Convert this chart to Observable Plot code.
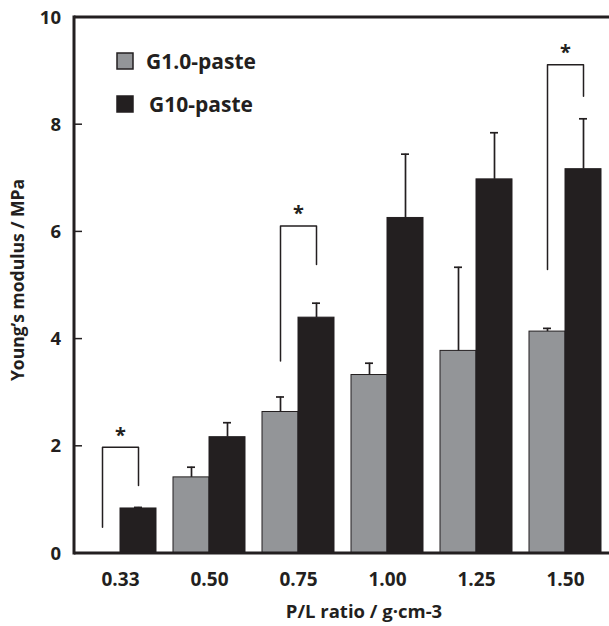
<!DOCTYPE html>
<html>
<head>
<meta charset="utf-8">
<script src="https://cdn.jsdelivr.net/npm/d3@7"></script>
<script src="https://cdn.jsdelivr.net/npm/@observablehq/plot@0.6"></script>
<style>
  html, body { margin: 0; padding: 0; background: #fff; }
  #chart { position: relative; width: 609px; height: 626px; }
</style>
</head>
<body>
<div id="chart"></div>
<script>
// ---- data ----
const ratios = ["0.33", "0.50", "0.75", "1.00", "1.25", "1.50"];
const seriesNames = ["G1.0-paste", "G10-paste"];
const g1Mean  = [0,    1.42, 2.64, 3.33, 3.78, 4.14];
const g1Err   = [0,    0.19, 0.28, 0.22, 1.56, 0.06];
const g10Mean = [0.84, 2.17, 4.40, 6.26, 6.98, 7.17];
const g10Err  = [0.02, 0.27, 0.27, 1.19, 0.87, 0.94];
const sigRatios      = ["0.33", "0.75", "1.50"];
const sigTop         = [1.98, 6.11, 9.12];
const sigLeftBottom  = [0.49, 3.59, 5.30];
const sigRightBottom = [1.27, 5.39, 8.53];
const yTicks = [0, 2, 4, 6, 8, 10];
const xTitle = "P/L ratio / g·cm-3";
const yTitle = "Young’s modulus / MPa";

// ---- tables built from the arrays ----
const bars = [];
ratios.forEach((r, i) => {
  bars.push({ratio: r, series: seriesNames[0], mean: g1Mean[i], err: g1Err[i]});
  bars.push({ratio: r, series: seriesNames[1], mean: g10Mean[i], err: g10Err[i]});
});
const shown = bars.filter(d => d.mean > 0);
const bracketPts = [];
sigRatios.forEach((r, i) => {
  bracketPts.push({ratio: r, series: seriesNames[0], y: sigLeftBottom[i]});
  bracketPts.push({ratio: r, series: seriesNames[0], y: sigTop[i]});
  bracketPts.push({ratio: r, series: seriesNames[1], y: sigTop[i]});
  bracketPts.push({ratio: r, series: seriesNames[1], y: sigRightBottom[i]});
});
const sig = sigRatios.map((r, i) => ({ratio: r, top: sigTop[i]}));

const ink = "#231f20", grey = "#939598";
const W = 609, H = 626, mL = 83, mR = 7, mT = 17, mB = 73;
const font = "'Open Sans', sans-serif";

const plot = Plot.plot({
  width: W, height: H,
  marginLeft: mL, marginRight: mR, marginTop: mT, marginBottom: mB,
  style: {fontFamily: font, fontWeight: 700, fontSize: "19px", color: ink, background: "white", overflow: "visible"},
  fx: {domain: ratios, paddingInner: 0.195, paddingOuter: 0, axis: "bottom", label: null, tickSize: 0, tickPadding: 19},
  x: {domain: seriesNames, padding: 0, axis: null},
  y: {domain: [0, 10], axis: null},
  color: {domain: seriesNames, range: [grey, ink]},
  marks: [
    Plot.barY(shown, {fx: "ratio", x: "series", y: "mean", fill: "series", stroke: ink, strokeWidth: 1}),
    Plot.ruleX(shown, {fx: "ratio", x: "series", y1: "mean", y2: d => d.mean + d.err, stroke: ink, strokeWidth: 1.7}),
    Plot.tickY(shown, {fx: "ratio", x: "series", y: d => d.mean + d.err, stroke: ink, strokeWidth: 1.7, insetLeft: 14, insetRight: 14}),
    Plot.line(bracketPts, {fx: "ratio", x: "series", y: "y", z: "ratio", stroke: ink, strokeWidth: 1.5}),
    Plot.text(sig, {fx: "ratio", y: "top", text: () => "*", dy: -12, fontSize: 20, fill: ink})
  ]
});

// ---- frame, y axis, legend and titles using Plot's y scale ----
const y = plot.scale("y");
const svg = d3.select(plot);
const axisX = mL - 9;
const g = svg.append("g").attr("stroke", ink).attr("fill", "none").attr("stroke-width", 3);
g.append("line").attr("x1", axisX).attr("x2", W).attr("y1", y.apply(10)).attr("y2", y.apply(10));
g.append("line").attr("x1", axisX).attr("x2", W).attr("y1", y.apply(0)).attr("y2", y.apply(0));
g.append("line").attr("x1", axisX).attr("x2", axisX).attr("y1", y.apply(10) - 1.5).attr("y2", y.apply(0) + 1.5);
yTicks.filter(t => t > 0 && t < 10).forEach(t => {
  g.append("line").attr("x1", axisX).attr("x2", axisX + 8).attr("y1", y.apply(t)).attr("y2", y.apply(t)).attr("stroke-width", 1.5);
});
const tg = svg.append("g").attr("fill", ink).attr("font-family", font).attr("font-weight", 700);
yTicks.forEach(t => {
  tg.append("text").attr("x", axisX - 13).attr("y", y.apply(t)).attr("dy", "0.36em")
    .attr("text-anchor", "end").attr("font-size", 18.5).text(String(t));
});
tg.append("text").attr("transform", `translate(24,${(y.apply(0) + y.apply(10)) / 2 - 5}) rotate(-90)`)
  .attr("text-anchor", "middle").attr("font-size", 17.5).text(yTitle);
tg.append("text").attr("x", 364).attr("y", 618).attr("text-anchor", "middle").attr("font-size", 18.5).text(xTitle);
// legend
const leg = [{name: seriesNames[0], fill: grey, y: 61, tx: 146}, {name: seriesNames[1], fill: ink, y: 104, tx: 149}];
leg.forEach(l => {
  svg.append("rect").attr("x", 117).attr("y", l.y - 8).attr("width", 16).attr("height", 16)
    .attr("fill", l.fill).attr("stroke", ink).attr("stroke-width", 1.5);
  tg.append("text").attr("x", l.tx).attr("y", l.y).attr("dy", "0.36em").attr("text-anchor", "start")
    .attr("font-size", 21).text(l.name);
});

document.getElementById("chart").appendChild(plot);
</script>
</body>
</html>
